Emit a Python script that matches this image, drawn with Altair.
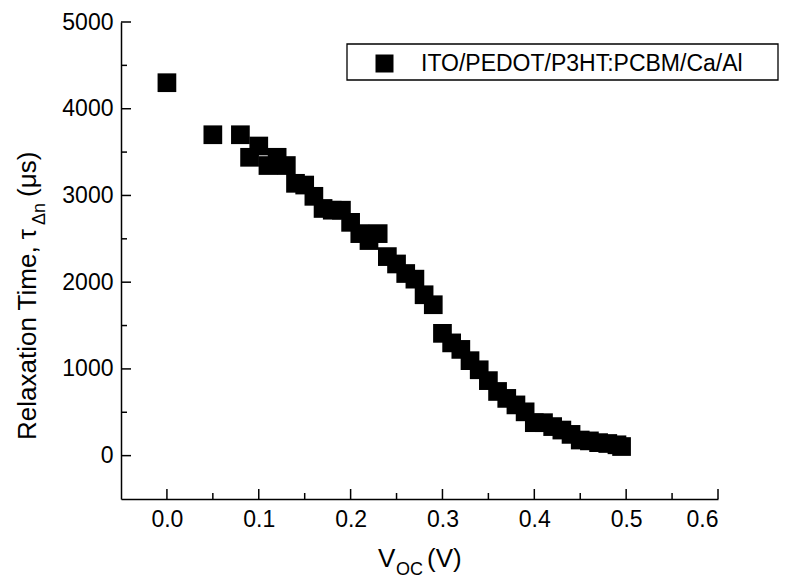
import altair as alt
import pandas as pd

# ---- data ----
voc = [0.0, 0.05, 0.08, 0.09, 0.10, 0.11, 0.12, 0.13, 0.14, 0.15, 0.16, 0.17, 0.18, 0.19,
       0.20, 0.21, 0.22, 0.23, 0.24, 0.25, 0.26, 0.27, 0.28, 0.29, 0.30, 0.31, 0.32, 0.33,
       0.34, 0.35, 0.36, 0.37, 0.38, 0.39, 0.40, 0.41, 0.42, 0.43, 0.44, 0.45, 0.46, 0.47,
       0.48, 0.49, 0.495]
tau = [4300, 3700, 3700, 3440, 3570, 3345, 3440, 3345, 3140, 3120, 2990, 2850, 2830, 2830,
       2690, 2560, 2480, 2560, 2295, 2210, 2100, 2035, 1855, 1740, 1410, 1300, 1225, 1095,
       990, 865, 740, 660, 585, 505, 380, 380, 335, 295, 245, 180, 170, 150, 140, 125, 105]
series_name = ["ITO/PEDOT/P3HT:PCBM/Ca/Al"]

x_major = [0.0, 0.1, 0.2, 0.3, 0.4, 0.5, 0.6]
x_minor = [0.05, 0.15, 0.25, 0.35, 0.45, 0.55]
y_major = [0, 1000, 2000, 3000, 4000, 5000]
y_minor = [500, 1500, 2500, 3500, 4500]

x_title = ["V", "OC", "(V)"]
y_title = ["Relaxation Time, \u03c4", "\u0394n", "(\u03bcs)"]

# ---- layout ----
W, H = 597, 477
FONT = "Liberation Sans"
TICK_FS = 23
TITLE_FS = 26
SUB_FS = 18

xs = alt.Scale(domain=[-0.05, 0.6], nice=False, zero=False)
ys = alt.Scale(domain=[-500, 5000], nice=False, zero=False)

xaxis = alt.Axis(values=x_major, format=".1f", title=None, tickSize=0, labelPadding=9,
                 labelFontSize=TICK_FS, labelFont=FONT, labelColor="black",
                 domainColor="black", domainWidth=1.5, grid=False)
yaxis = alt.Axis(values=y_major, format="d", title=None, tickSize=0, labelPadding=8,
                 labelFontSize=TICK_FS, labelFont=FONT, labelColor="black",
                 domainColor="black", domainWidth=1.5, grid=False)

df = pd.DataFrame({"voc": voc, "tau": tau, "series": series_name[0]})
one = pd.DataFrame({"a": [0]})

points = alt.Chart(df).mark_square(size=350, opacity=1, strokeWidth=0).encode(
    x=alt.X("voc:Q", scale=xs, axis=xaxis),
    y=alt.Y("tau:Q", scale=ys, axis=yaxis),
    color=alt.Color("series:N", scale=alt.Scale(domain=series_name, range=["black"]),
                    legend=alt.Legend(orient="none", legendX=252, legendY=30, title=None,
                                      symbolType="square", symbolSize=324, symbolStrokeWidth=0,
                                      labelFontSize=TICK_FS, labelFont=FONT, labelColor="black",
                                      labelOffset=25, labelLimit=600, padding=0)),
)

xmaj = alt.Chart(pd.DataFrame({"voc": x_major})).mark_rule(color="black", strokeWidth=1.5).encode(
    x=alt.X("voc:Q", scale=xs, axis=xaxis), y=alt.value(H), y2=alt.value(H - 10))
xmin = alt.Chart(pd.DataFrame({"voc": x_minor})).mark_rule(color="black", strokeWidth=1.5).encode(
    x=alt.X("voc:Q", scale=xs, axis=xaxis), y=alt.value(H), y2=alt.value(H - 6))
ymaj = alt.Chart(pd.DataFrame({"tau": y_major})).mark_rule(color="black", strokeWidth=1.5).encode(
    y=alt.Y("tau:Q", scale=ys, axis=yaxis), x=alt.value(0), x2=alt.value(10))
ymin = alt.Chart(pd.DataFrame({"tau": y_minor})).mark_rule(color="black", strokeWidth=1.5).encode(
    y=alt.Y("tau:Q", scale=ys, axis=yaxis), x=alt.value(0), x2=alt.value(6))

frame = alt.Chart(one).mark_rect(fill="white", fillOpacity=0, stroke="black", strokeWidth=1.3).encode(
    x=alt.value(226), x2=alt.value(657), y=alt.value(22), y2=alt.value(58))

def txt(s, fs, x, y, angle=0):
    kw = dict(text=s, fontSize=fs, font=FONT, color="black", align="left", baseline="alphabetic")
    if angle:
        kw["angle"] = angle
    return alt.Chart(one).mark_text(**kw).encode(x=alt.value(x), y=alt.value(y))

xt1 = txt(x_title[0], TITLE_FS, 257, 545)
xt2 = txt(x_title[1], SUB_FS, 275, 553)
xt3 = txt(x_title[2], TITLE_FS, 306, 545)

yt1 = txt(y_title[0], TITLE_FS, -85, 418, 270)
yt2 = txt(y_title[1], SUB_FS, -76, 203, 270)
yt3 = txt(y_title[2], TITLE_FS, -85, 175, 270)

chart = alt.layer(points, frame, xmaj, xmin, ymaj, ymin, xt1, xt2, xt3, yt1, yt2, yt3).properties(
    width=W, height=H,
    autosize=alt.AutoSizeParams(type="none"),
    padding={"left": 121, "top": 22, "right": 72, "bottom": 79},
    background="white",
).configure_view(strokeWidth=0)

chart.save("out.html", embed_options={"renderer": "svg", "actions": False})
